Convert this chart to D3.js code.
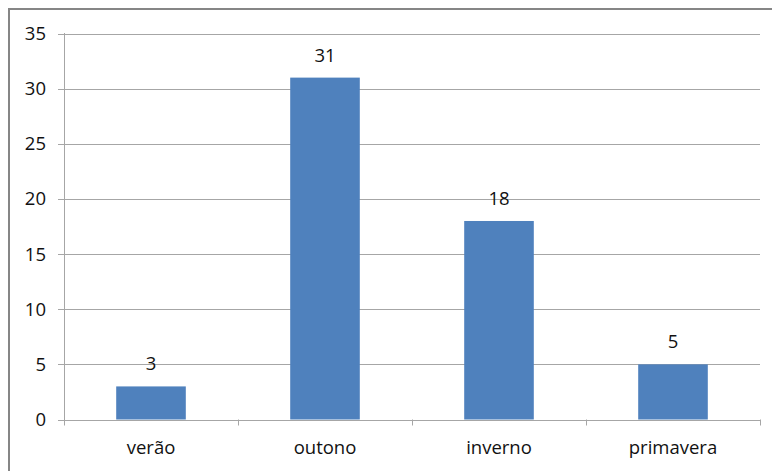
<!DOCTYPE html>
<html>
<head>
<meta charset="utf-8">
<script src="https://cdn.jsdelivr.net/npm/d3@7"></script>
<style>
  body { margin: 0; background: #fff; }
  text { font-family: "Open Sans", sans-serif; font-size: 18.5px; fill: #111; }
</style>
</head>
<body>
<script>
const seasons = ["verão", "outono", "inverno", "primavera"];
const counts = [3, 31, 18, 5];
const yTicks = [0, 5, 10, 15, 20, 25, 30, 35];

const width = 772, height = 471;
const margin = {top: 33, right: 12, bottom: 51, left: 64};

const svg = d3.select("body").append("svg")
    .attr("width", width)
    .attr("height", height);

// outer chart frame (only left and top edges show in the picture)
svg.append("rect")
    .attr("x", 9).attr("y", 9)
    .attr("width", width + 20).attr("height", height + 20)
    .attr("fill", "none")
    .attr("stroke", "#868686")
    .attr("stroke-width", 2);

const x = d3.scaleBand()
    .domain(seasons)
    .range([margin.left, width - margin.right])
    .paddingInner(0.6)
    .paddingOuter(0.3);

const y = d3.scaleLinear()
    .domain([0, 35])
    .range([height - margin.bottom - 0.5, margin.top + 0.5]);

// gridlines
svg.append("g")
  .selectAll("line")
  .data(yTicks)
  .join("line")
    .attr("x1", margin.left - 6)
    .attr("x2", width - margin.right)
    .attr("y1", d => Math.round(y(d)) + 0.5)
    .attr("y2", d => Math.round(y(d)) + 0.5)
    .attr("stroke", "#a6a6a6");

// y axis line
svg.append("line")
    .attr("x1", margin.left + 0.5).attr("x2", margin.left + 0.5)
    .attr("y1", margin.top).attr("y2", height - margin.bottom)
    .attr("stroke", "#a6a6a6");

svg.append("g")
  .selectAll("text")
  .data(yTicks)
  .join("text")
    .attr("x", margin.left - 18)
    .attr("y", d => y(d))
    .attr("dy", "0.35em")
    .attr("text-anchor", "end")
    .text(d => d);

// category ticks on the x axis
const step = x.step();
const bounds = d3.range(seasons.length + 1).map(i => x.range()[0] + i * step);
svg.append("g")
  .selectAll("line")
  .data(bounds)
  .join("line")
    .attr("x1", d => Math.round(d) + 0.5)
    .attr("x2", d => Math.round(d) + 0.5)
    .attr("y1", y(0))
    .attr("y2", y(0) + 6)
    .attr("stroke", "#a6a6a6");

svg.append("g")
  .selectAll("text")
  .data(seasons)
  .join("text")
    .attr("x", d => x(d) + x.bandwidth() / 2)
    .attr("y", y(0) + 34)
    .attr("text-anchor", "middle")
    .text(d => d);

// bars
svg.append("g")
  .selectAll("rect")
  .data(seasons)
  .join("rect")
    .attr("x", d => x(d))
    .attr("width", x.bandwidth())
    .attr("y", (d, i) => y(counts[i]))
    .attr("height", (d, i) => y(0) - y(counts[i]))
    .attr("fill", "#4f81bd");

// value labels
svg.append("g")
  .selectAll("text")
  .data(seasons)
  .join("text")
    .attr("x", d => x(d) + x.bandwidth() / 2)
    .attr("y", (d, i) => y(counts[i]) - 16)
    .attr("text-anchor", "middle")
    .text((d, i) => counts[i]);
</script>
</body>
</html>
